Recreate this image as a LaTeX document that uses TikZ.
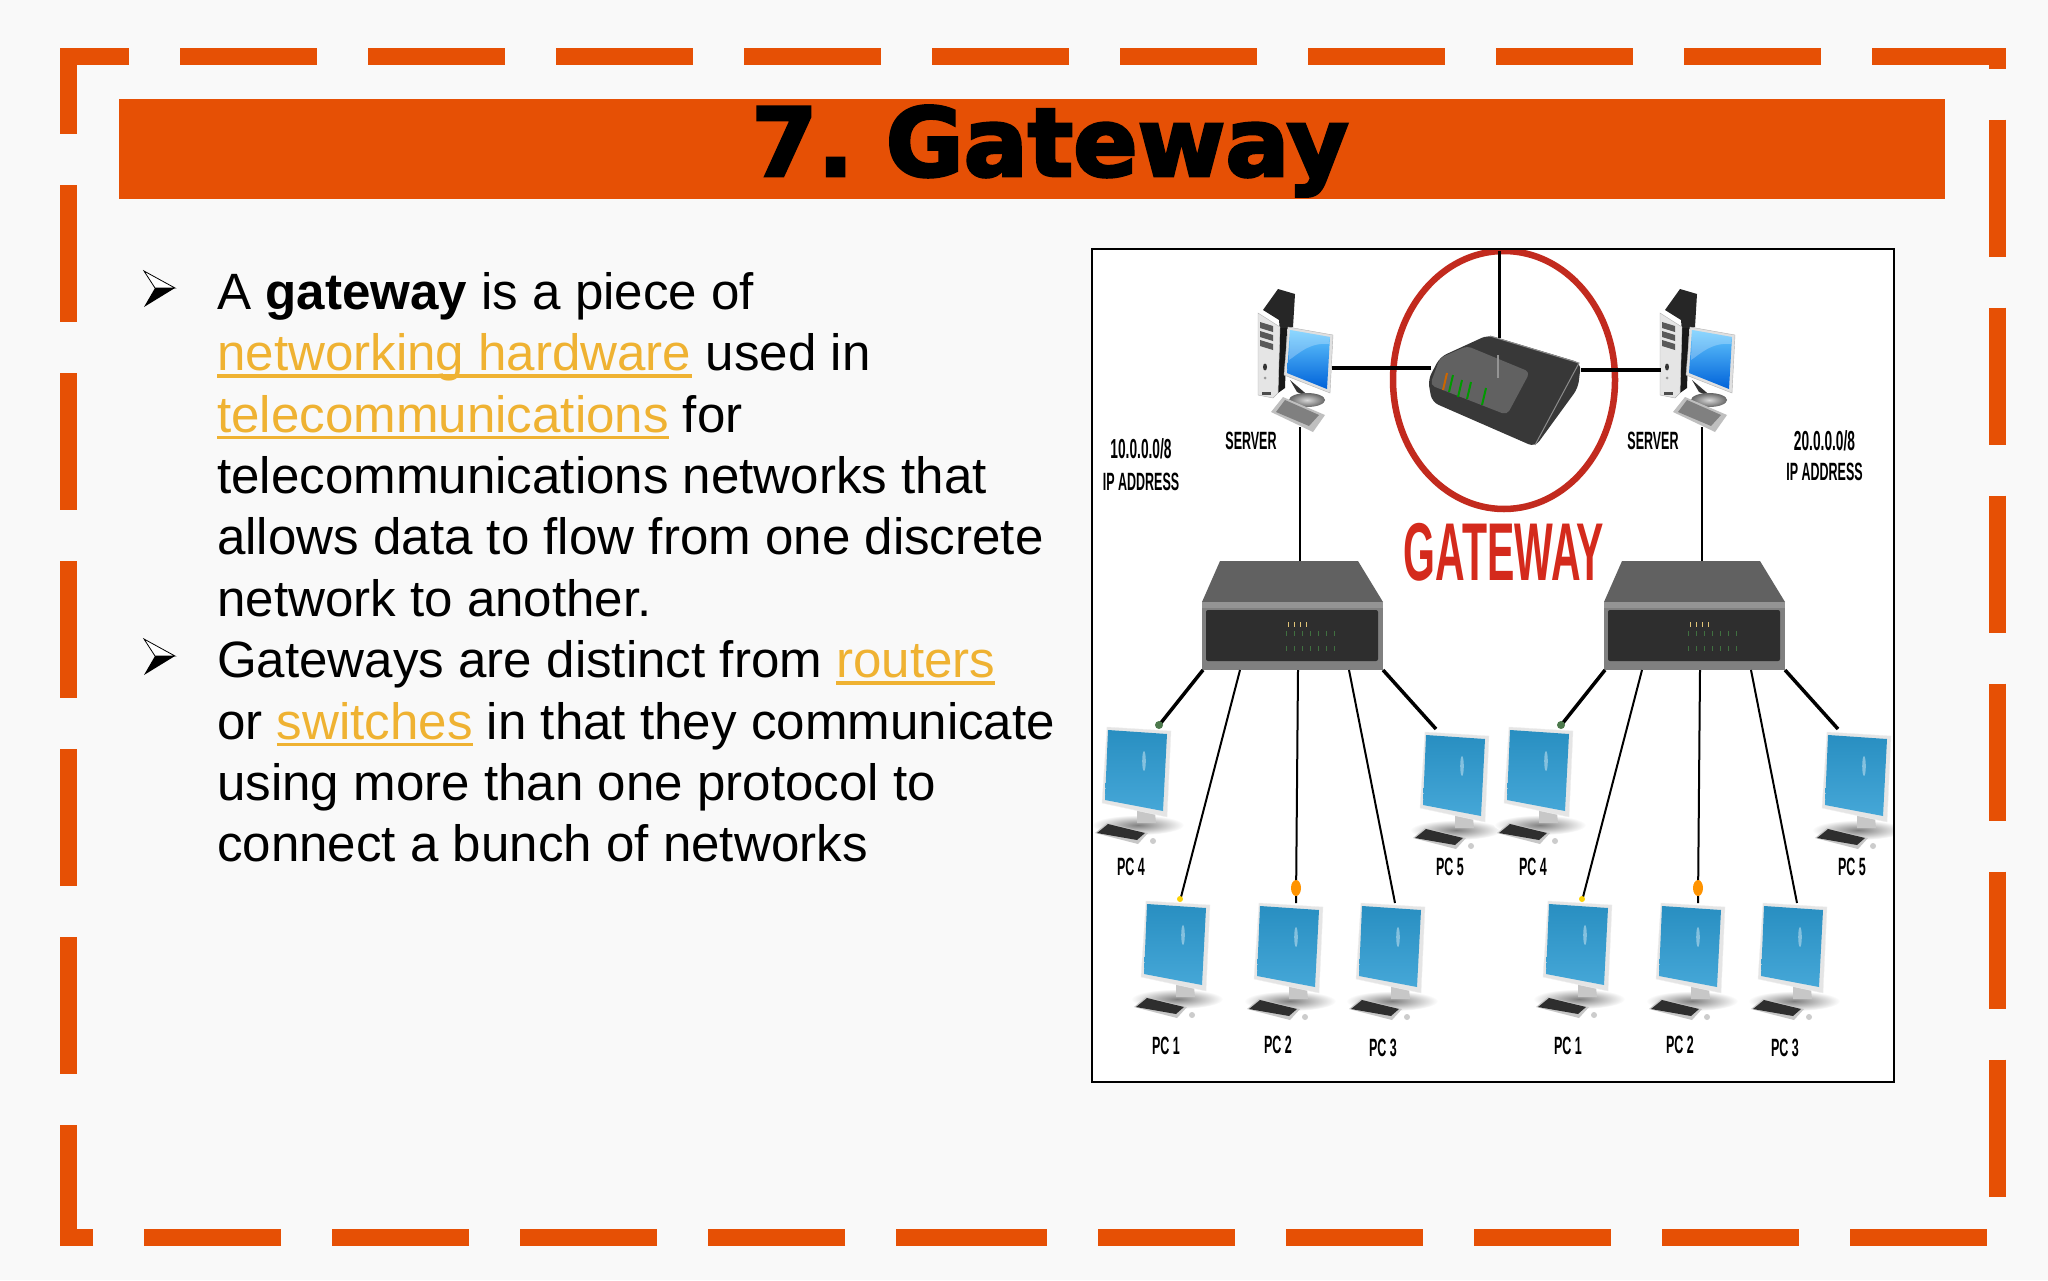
\documentclass[tikz,border=0pt]{standalone}
\usepackage{fontspec}
\setmainfont{Liberation Sans}
\newfontfamily\titlefont[FakeBold=3]{DejaVu Sans Bold}
\newfontfamily\picfont[FakeStretch=0.5]{Liberation Sans}
\definecolor{slidebg}{HTML}{F9F9F9}
\definecolor{slideorange}{HTML}{E65005}
\definecolor{linkgold}{HTML}{EFB232}
\definecolor{gatered}{HTML}{D42A1C}
\definecolor{ringred}{HTML}{C22A1E}
\definecolor{screenblue}{HTML}{2C9BD2}
\newsavebox\linkbox
\newcommand{\linktext}[1]{{\color{linkgold}\sbox\linkbox{#1}\rlap{\rule[-7pt]{\wd\linkbox}{3.5pt}}\usebox\linkbox}}
\tikzset{
bulletmark/.pic={
    \draw[line width=0.8pt,fill=white] (0,0) -- (31,17) -- (11,17) -- cycle;
    \fill[black] (0,36) -- (31,17) -- (11,17) -- cycle;
},
pcunit/.pic={
    \shade[inner color=black!50,outer color=white] (32,97) ellipse (46 and 10);
    \fill[black!22] (31,82) -- (49,85) -- (50,95) -- (31,95) -- cycle;
    \fill[black!10,draw=black!6] (1,-1) -- (65,3) -- (61,89) -- (-4,75) -- cycle;
    \shade[top color=screenblue!92!black,bottom color=screenblue!88!white] (2,2) -- (61,6) -- (57,83) -- (-1,72) -- cycle;
    \fill[white,opacity=0.4] (38,33) ellipse (1.8 and 10);
    \fill[black!22] (-11,105) -- (1,95) -- (42,105) -- (32,116) -- cycle;
    \fill[black!82] (-9,105) -- (2,96) -- (39,105) -- (31,112) -- cycle;
    \fill[black!20] (47,113) circle (3);
},
serverunit/.pic={
    \fill[black!85] (4,0) -- (19,-21) -- (36,-16) -- (34,17) -- (21,22) -- (20,10) -- cycle;
    \fill[black!90] (21,18) -- (28,18) -- (26,78) -- (19,83) -- cycle;
    \fill[black!10,draw=black!30] (-1,3) -- (21,17) -- (19,83) -- (14,88) -- (-1,85) -- cycle;
    \foreach \sy in {12,21,30}
    \fill[black!65] (1,\sy) -- (14,\sy+4) -- (14,\sy+10) -- (1,\sy+6) -- cycle;
    \fill[black!80] (6,57) ellipse (2 and 3.5);
    \fill[black!40] (6,68) circle (1.5);
    \fill[black!70] (3,82) rectangle +(9,3);
    \fill[black!80] (31,70) -- (52,88) -- (38,82) -- cycle;
    \shade[inner color=black!15,outer color=black!60] (48,90) ellipse (18 and 7);
    \fill[black!12,draw=black!30] (29,17) -- (74,25) -- (71,83) -- (25,65) -- cycle;
    \shade[top color=blue!35!cyan!60!white,bottom color=blue!55!cyan!85!black] (31,20) -- (71,27) -- (68,79) -- (28,63) -- cycle;
    \fill[white,opacity=0.25] (31,20) -- (71,27) -- (70,34) .. controls (50,32) and (38,45) .. (30,50) -- cycle;
    \fill[black!25] (24,87) -- (66,105) -- (54,122) -- (12,102) -- cycle;
    \fill[black!50] (26,90) -- (60,105) -- (50,116) -- (17,102) -- cycle;
},
switchunit/.pic={
    \fill[black!62] (18,0) -- (156,0) -- (181,41) -- (0,41) -- cycle;
    \fill[black!50] (0,41) rectangle (181,109);
    \fill[black!42] (0,41) rectangle (181,47);
    \fill[black!82,rounded corners=2pt] (4,49) rectangle (176,100);
    \foreach \lx in {86,92,98,104}
    \fill[yellow!30!brown!70] (\lx,61) rectangle +(1.2,5);
    \foreach \lx in {84,92,...,134}
    {\fill[green!25!black!75] (\lx,70) rectangle +(1.2,5);
    \fill[green!25!black!75] (\lx,85) rectangle +(1.2,5);}
}
}
\begin{document}
\begin{tikzpicture}[
x=1pt,y=-1pt,
frameline/.style={draw=slideorange,line width=17pt,dash pattern=on 137pt off 51pt},
slidetext/.style={font=\fontsize{51.1}{61.4}\selectfont,align=left,inner sep=0pt},
picwords/.style={font=\fontsize{25}{25}\selectfont\picfont\bfseries,inner sep=0pt},
networds/.style={font=\fontsize{27.5}{27.5}\selectfont\picfont\bfseries,inner sep=0pt},
wire/.style={draw=black,line width=2pt},
thick wire/.style={draw=black,line width=3.5pt},
]
\useasboundingbox (0,0) rectangle (2048,1280);
\fill[slidebg] (0,0) rectangle (2048,1280);
\draw[frameline] (180,56.5) -- (1997,56.5) -- (1997,1237) -- (909,1237);
\draw[frameline] (1033,1237) -- (68.5,1237) -- (68.5,56.5) -- (129.5,56.5);

\node[fill=slideorange,minimum width=1825.5pt,minimum height=100pt,inner sep=0pt] (banner) at (1032,149) {};
\node[font=\fontsize{95}{95}\selectfont\titlefont,inner sep=0pt] (title) at (1050,151) {7.\kern-12pt{} Gateway};

\pic at (144,271) {bulletmark};
\pic at (144,639) {bulletmark};
\node[slidetext,anchor=north west] (bodytext) at (217,272) {%
A \textbf{gateway} is a piece of\\
\linktext{networking hardware} used in\\
\linktext{telecommunications} for\\
telecommunications networks that\\
allows data to flow from one discrete\\
network to another.\\
Gateways are distinct from \linktext{routers}\\
or \linktext{switches} in that they communicate\\
using more than one protocol to\\
connect a bunch of networks};

\fill[white] (1092,249) rectangle (1894,1082);
\begin{scope}
\clip (1092,249) rectangle (1894,1082);
\draw[ringred,line width=6.5pt] (1504,380) ellipse (111 and 129);
\coordinate (aerial top) at (1499,251);
\coordinate (aerial foot) at (1499,338);
\coordinate (router west) at (1431,368);
\coordinate (router east) at (1581,370);
\draw[wire,line width=3pt] (aerial top) -- (aerial foot);
\fill[black!78,rounded corners=7pt] (1488,335) -- (1581,363) -- (1578,388) -- (1535,447) -- (1432,402) -- (1428,380) -- (1440,357) -- cycle;
\fill[black!62,rounded corners=5pt] (1467,346) -- (1530,372) -- (1507,415) -- (1430,385) -- (1440,358) -- cycle;
\draw[black!45,line width=1pt] (1490,336) -- (1579,363) -- (1535,445);
\draw[black!42,line width=1.5pt] (1498,355) -- (1498,378);
\foreach \lx/\ly/\lc in {1447/373/orange!80!black,1453/375/green!60!black,1462/380/green!60!black,1471/382/green!60!black,1486/388/green!60!black}
\draw[line width=2pt,draw=\lc] (\lx,\ly) -- (\lx-4,\ly+17);

\node[font=\fontsize{82}{82}\selectfont\picfont\bfseries,text=gatered,inner sep=0pt] (gateword) at (1504,552) {GATEWAY};
\node[networds] (net1a) at (1141,449) {10.0.0.0/8};
\node[picwords] (net1b) at (1141,482) {IP ADDRESS};
\node[networds] (net2a) at (1824.5,441) {20.0.0.0/8};
\node[picwords] (net2b) at (1824.5,472) {IP ADDRESS};

\foreach \dx [count=\g] in {0,402}
{
\coordinate (srv\g) at (1300+\dx,427);
\coordinate (swtop\g) at (1300+\dx,561);
\draw[wire] (srv\g) -- (swtop\g);
\pic at (1259+\dx,310) {serverunit};
\pic at (1202+\dx,561) {switchunit};
\node[picwords] (srvname\g) at (1251+\dx,441) {SERVER};
\foreach \n/\px/\py/\tx/\ty/\sx/\lx/\ly/\wr in {
4/1106/728/1160/724/1203/1131/867/thick wire,
5/1424/733/1436/729/1383/1450/867/thick wire,
1/1145/902/1181/897/1240/1166/1046/wire,
2/1258/904/1296/903/1298/1278/1045/wire,
3/1360/904/1395/903/1349/1383/1048/wire}
{
\coordinate (port\g\n) at (\sx+\dx,670);
\coordinate (pctop\g\n) at (\tx+\dx,\ty);
\draw[\wr] (port\g\n) -- (pctop\g\n);
\pic at (\px+\dx,\py) {pcunit};
\node[picwords] (pcname\g\n) at (\lx+\dx,\ly) {PC \n};
}
\fill[orange!85!yellow] (1296+\dx,888) ellipse (5 and 8);
\fill[green!25!black!70] (1159+\dx,725) circle (4);
\fill[yellow!70!orange] (1180+\dx,899) circle (3);
}
\draw[thick wire] (router west) -- (1332,368);
\draw[thick wire] (router east) -- (1661,370);
\end{scope}
\draw[black,line width=2.5pt] (1092,249) rectangle (1894,1082);
\end{tikzpicture}
\end{document}
